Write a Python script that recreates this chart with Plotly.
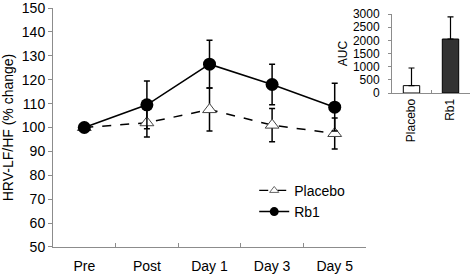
import plotly.graph_objects as go

categories = ["Pre", "Post", "Day 1", "Day 3", "Day 5"]
rb1_values = [100, 109.5, 126.5, 118, 108.5]
rb1_errors = [1, 10, 10, 8.5, 10]
placebo_values = [100, 102, 107.5, 101, 97.5]
placebo_errors = [1, 6, 9, 7, 6.5]

auc_groups = ["Placebo", "Rb1"]
auc_values = [280, 2050]
auc_errors = [670, 840]

FONT = "Liberation Sans, Arial, sans-serif"
AX = "#8c8c8c"

fig = go.Figure()

fig.add_trace(go.Scatter(
    x=categories, y=placebo_values, name="Placebo", mode="lines+markers", showlegend=False,
    line=dict(color="black", width=1.5, dash="dash"),
    marker=dict(symbol="triangle-up", size=12, color="white", line=dict(color="#444", width=1)),
    error_y=dict(type="data", array=placebo_errors, color="black", thickness=1.5, width=3),
    xaxis="x", yaxis="y",
))
fig.add_trace(go.Scatter(
    x=categories, y=rb1_values, name="Rb1", mode="lines+markers", showlegend=False,
    line=dict(color="black", width=1.5),
    marker=dict(symbol="circle", size=13, color="black"),
    error_y=dict(type="data", array=rb1_errors, color="black", thickness=1.5, width=3),
    xaxis="x", yaxis="y",
))
# legend entries (smaller symbols, as in the reference legend)
fig.add_trace(go.Scatter(
    x=[None], y=[None], name="Placebo", mode="lines+markers",
    line=dict(color="black", width=1.2, dash="dash"),
    marker=dict(symbol="triangle-up", size=8, color="white", line=dict(color="#666", width=1)),
    xaxis="x", yaxis="y",
))
fig.add_trace(go.Scatter(
    x=[None], y=[None], name="Rb1", mode="lines+markers",
    line=dict(color="black", width=1.5),
    marker=dict(symbol="circle", size=9, color="black"),
    xaxis="x", yaxis="y",
))

fig.add_trace(go.Bar(
    x=auc_groups, y=auc_values, showlegend=False,
    marker=dict(color=["white", "#333333"], line=dict(color="black", width=1)),
    width=0.42,
    error_y=dict(type="data", array=auc_errors, symmetric=False, arrayminus=[0, 0],
                 color="black", thickness=1.2, width=3),
    xaxis="x2", yaxis="y2",
))

fig.add_annotation(text="*", x="Rb1", y=3070, xref="x2", yref="y2", showarrow=False,
                   font=dict(family=FONT, size=10, color="black"), yanchor="bottom")

fig.update_layout(
    width=472, height=274,
    margin=dict(l=0, r=0, t=0, b=0, autoexpand=False),
    paper_bgcolor="white", plot_bgcolor="white",
    font=dict(family=FONT, color="black"),
    legend=dict(x=0.5386, y=0.362, xanchor="left", yanchor="top",
                font=dict(family=FONT, size=14), bgcolor="rgba(0,0,0,0)",
                tracegroupgap=0, itemwidth=30),
    xaxis=dict(domain=[53/472, 366/472], range=[-0.5, 4.5], showline=True, linecolor=AX,
               linewidth=1, tickson="boundaries", ticks="inside", ticklen=4, tickcolor=AX,
               showgrid=False, zeroline=False, tickfont=dict(size=14), anchor="y",
               automargin=False, ticklabelstandoff=6),
    yaxis=dict(domain=[27/274, 266/274], range=[49.99, 150.01], tickvals=list(range(50, 151, 10)),
               showline=True, ticklabeloverflow="allow",
               linecolor=AX, linewidth=1, ticks="outside", ticklen=4, tickcolor=AX,
               showgrid=False, zeroline=False, tickfont=dict(size=14), anchor="x",
               automargin=False,
               title=dict(text="HRV-LF/HF (% change)", font=dict(size=14), standoff=8)),
    xaxis2=dict(domain=[392/472, 470/472], range=[-0.5, 1.5], showline=True, linecolor=AX,
                linewidth=1, tickson="boundaries", ticks="inside", ticklen=3, tickcolor=AX,
                showgrid=False, zeroline=False, tickangle=-90, tickfont=dict(size=12),
                anchor="y2", automargin=False),
    yaxis2=dict(domain=[181/274, 260/274], range=[0, 3000], dtick=500, showline=True,
                linecolor=AX, linewidth=1, ticks="outside", ticklen=3, tickcolor=AX,
                showgrid=False, zeroline=False, tickfont=dict(size=12), anchor="x2",
                automargin=False, ticklabelstandoff=6,
                title=dict(text="AUC", font=dict(size=12), standoff=2)),
)

fig.write_html("out.html", config={"displayModeBar": False},
               post_script="document.body.style.margin='0';")
